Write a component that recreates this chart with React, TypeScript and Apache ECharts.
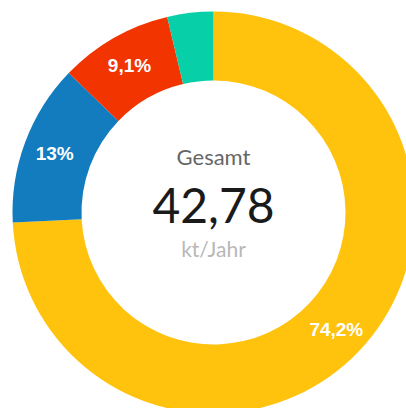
import React, { useEffect, useRef } from "react";
import * as echarts from "echarts";

const categories = ["Gelb", "Blau", "Rot", "Türkis"];
const shares = [74.2, 13, 9.1, 3.7];
const colors = ["#FFC20D", "#127CBE", "#F23401", "#07CFA8"];
const showLabel = [true, true, true, false];
const centerTitle = "Gesamt";
const centerValue = "42,78";
const centerUnit = "kt/Jahr";

export default function App() {
  const ref = useRef<HTMLDivElement>(null);
  useEffect(() => {
    if (!ref.current) return;
    const chart = echarts.init(ref.current, null, { renderer: "svg" });
    const cx = 213.5;
    const cy = 212.5;
    chart.setOption({
      animation: false,
      backgroundColor: "#ffffff",
      series: [
        {
          type: "pie",
          center: [cx, cy],
          radius: [132, 201],
          startAngle: 90,
          clockwise: true,
          avoidLabelOverlap: false,
          silent: true,
          label: {
            show: true,
            position: "inside",
            color: "#ffffff",
            fontFamily: "Liberation Sans, Arial, sans-serif",
            fontWeight: "bold",
            fontSize: 19,
            formatter: (p: any) =>
              showLabel[p.dataIndex] ? String(p.value).replace(".", ",") + "%" : "",
          },
          labelLine: { show: false },
          itemStyle: { borderWidth: 0 },
          data: categories.map((name, i) => ({
            name,
            value: shares[i],
            itemStyle: { color: colors[i] },
          })),
        },
      ],
      graphic: [
        {
          type: "text",
          x: cx,
          y: 156,
          style: {
            text: centerTitle,
            fill: "#666666",
            font: "normal 22px Lato, 'Open Sans', sans-serif",
            textAlign: "center",
            textVerticalAlign: "middle",
          },
        },
        {
          type: "text",
          x: cx,
          y: 204,
          style: {
            text: centerValue,
            fill: "#1a1a1a",
            font: "normal 48px Lato, 'Open Sans', sans-serif",
            textAlign: "center",
            textVerticalAlign: "middle",
          },
        },
        {
          type: "text",
          x: cx,
          y: 248,
          style: {
            text: centerUnit,
            fill: "#b8b8b8",
            font: "normal 21px Lato, 'Open Sans', sans-serif",
            textAlign: "center",
            textVerticalAlign: "middle",
          },
        },
      ],
    });
    return () => chart.dispose();
  }, []);
  return (
    <div
      ref={ref}
      style={{ position: "fixed", left: 0, top: 0, width: 406, height: 408 }}
    />
  );
}
